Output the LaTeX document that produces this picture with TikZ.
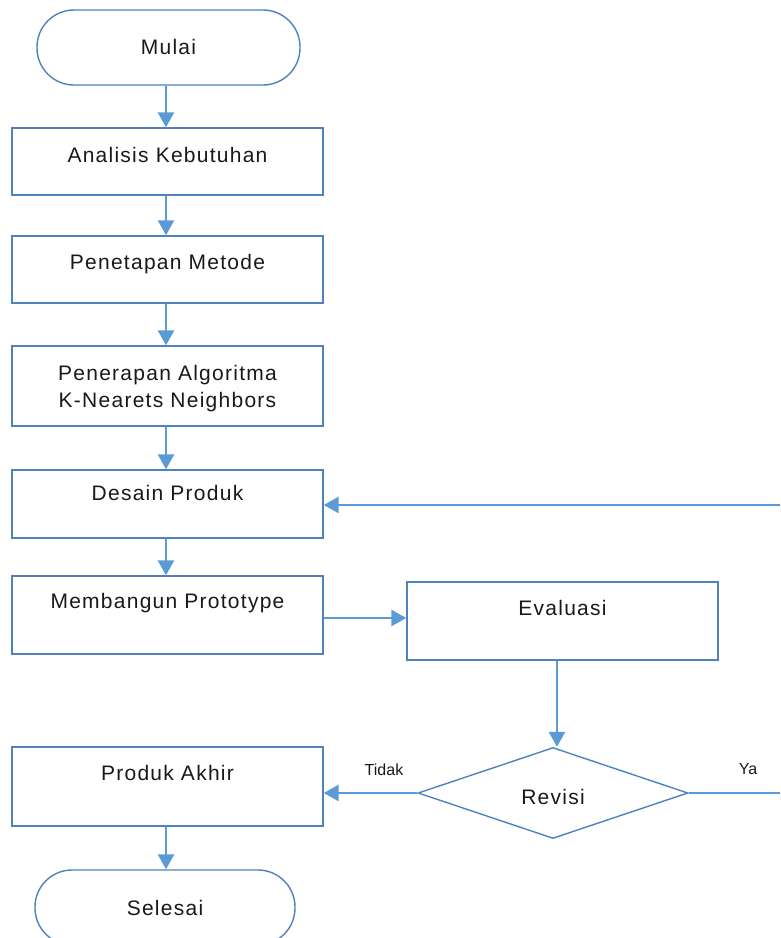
\documentclass[tikz,border=0pt]{standalone}
\usepackage{fontspec}
\setmainfont{Liberation Sans}
\newfontfamily\boxfont[LetterSpace=6]{Liberation Sans}
\usetikzlibrary{arrows.meta,shapes.geometric}
\definecolor{boxline}{HTML}{4F81BD}
\definecolor{arrowline}{HTML}{5B9BD5}
\begin{document}
\begin{tikzpicture}[x=1pt,y=-1pt,
  procbox/.style={draw=boxline,line width=1.4pt,rectangle,inner sep=0pt,minimum width=311pt},
  termbox/.style={draw=boxline,line width=1.4pt,rectangle,rounded corners=37pt,inner sep=0pt,minimum height=75pt},
  decbox/.style={draw=boxline,line width=1.4pt,diamond,aspect=2.97,inner sep=0pt,minimum width=270pt,minimum height=91pt},
  lbl/.style={font=\boxfont\fontsize{21}{27}\selectfont,align=center,text=black!90,inner sep=0pt},
  small/.style={font=\fontsize{16}{18}\selectfont,text=black!90,inner sep=0pt},
  flow/.style={draw=arrowline,line width=2.8pt,-{Triangle[width=16pt,length=15pt]}},
  plain/.style={draw=arrowline,line width=2.8pt}]
\useasboundingbox (0,0) rectangle (780,938);
% terminal start
\node[termbox,minimum width=263pt] (mulai) at (168.5,47.5) {};
\node[lbl] (tmulai) at (168.5,47) {Mulai};
% process boxes
\node[procbox,minimum height=67pt] (analisis) at (167.5,161.5) {};
\node[lbl] (tanalisis) at (167.5,155) {Analisis Kebutuhan};
\node[procbox,minimum height=67pt] (penetapan) at (167.5,269.5) {};
\node[lbl] (tpenetapan) at (167.5,264) {Penetapan Metode};
\node[procbox,minimum height=80pt] (penerapan) at (167.5,386) {};
\node[lbl] (tpenerapan) at (167.5,389) {Penerapan Algoritma\\K-Nearets Neighbors};
\node[procbox,minimum height=68pt] (desain) at (167.5,504) {};
\node[lbl] (tdesain) at (167.5,493) {Desain Produk};
\node[procbox,minimum height=78pt] (membangun) at (167.5,615) {};
\node[lbl] (tmembangun) at (167.5,603) {Membangun Prototype};
\node[procbox,minimum height=78pt] (evaluasi) at (562.5,621) {};
\node[lbl] (tevaluasi) at (562.5,608) {Evaluasi};
\node[decbox] (revisi) at (553,793) {};
\node[lbl] (trevisi) at (553,797) {Revisi};
\node[procbox,minimum height=79pt] (produk) at (167.5,786.5) {};
\node[lbl] (tproduk) at (167.5,773) {Produk Akhir};
\node[termbox,minimum width=260pt] (selesai) at (165,907.5) {};
\node[lbl] (tselesai) at (165,908) {Selesai};
% labels
\node[small] (ltidak) at (384,770) {Tidak};
\node[small] (lya) at (748,769) {Ya};
% connectors
\coordinate (rightlow) at (780,793);
\coordinate (righthigh) at (780,505);
\draw[flow] (mulai.south -| 166,0) -- (analisis.north -| 166,0);
\draw[flow] (analisis.south -| 166,0) -- (penetapan.north -| 166,0);
\draw[flow] (penetapan.south -| 166,0) -- (penerapan.north -| 166,0);
\draw[flow] (penerapan.south -| 166,0) -- (desain.north -| 166,0);
\draw[flow] (desain.south -| 166,0) -- (membangun.north -| 166,0);
\draw[flow] (membangun.east |- 0,618) -- (evaluasi.west |- 0,618);
\draw[flow] (evaluasi.south -| 557,0) -- (revisi.north -| 557,0);
\draw[flow] (revisi.west) -- (produk.east |- revisi.west);
\draw[plain] (revisi.east) -- (rightlow);
\draw[flow] (righthigh) -- (desain.east |- righthigh);
\draw[flow] (produk.south -| 166,0) -- (selesai.north -| 166,0);
\end{tikzpicture}
\end{document}
